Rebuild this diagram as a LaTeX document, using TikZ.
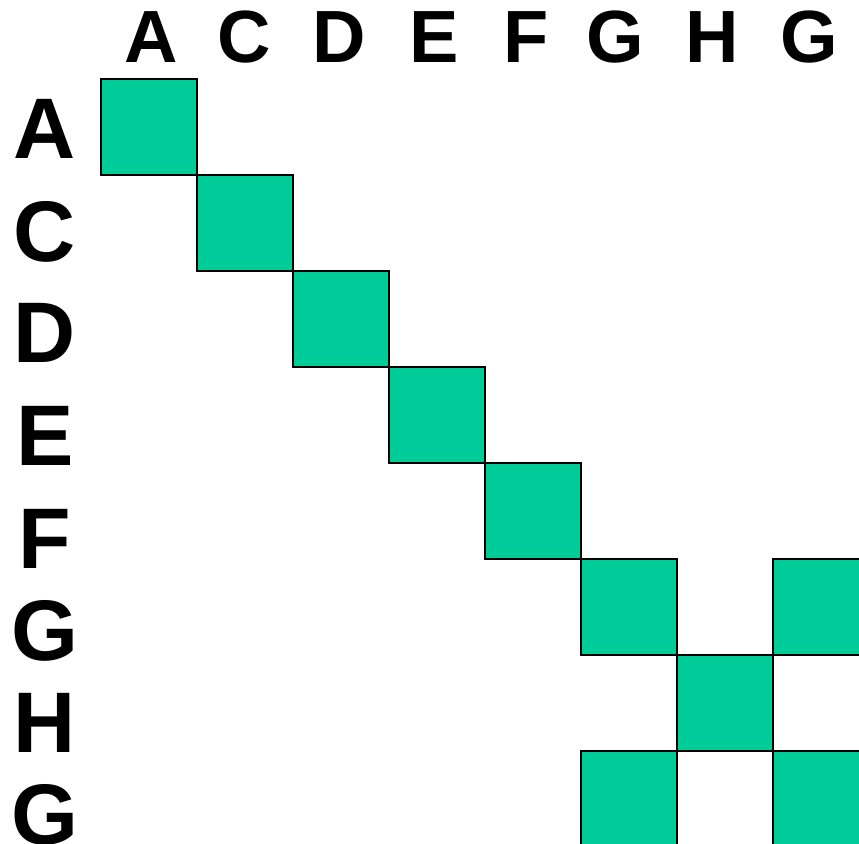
\documentclass[tikz,border=0pt]{standalone}
\usepackage{fontspec}
\setmainfont{Liberation Sans}
\definecolor{cellgreen}{HTML}{00CC99}
\tikzset{
  cell/.style={draw=black, line width=1.6pt, fill=cellgreen, minimum size=96pt, inner sep=0pt, anchor=north west},
  collabel/.style={font=\bfseries\fontsize{74}{74}\selectfont, anchor=base, inner sep=0pt},
  rowlabel/.style={font=\bfseries\fontsize{86}{86}\selectfont, anchor=base, inner sep=0pt}
}
\begin{document}
\begin{tikzpicture}[x=1pt, y=-1pt]
    \useasboundingbox (0,0) rectangle (859,843);
    \clip (0,0) rectangle (859,843);
    % filled cells of the matrix (column/row)
    \foreach \c/\r in {0/0, 1/1, 2/2, 3/3, 4/4, 5/5, 7/5, 6/6, 5/7, 7/7}
        \node[cell] (cell-\r-\c) at ({100+96*\c},{78+96*\r}) {};
    % column heads
    \foreach \t/\x [count=\i] in {A/151.5, C/244.5, D/339.5, E/434, F/526, G/615, H/712.5, G/809}
        \node[collabel] (col-\i) at (\x,63) {\t};
    % row heads
    \foreach \t/\y [count=\i] in {A/158, C/261, D/362, E/465, F/568, G/660, H/752, G/844}
        \node[rowlabel] (row-\i) at (45,\y) {\t};
\end{tikzpicture}
\end{document}
